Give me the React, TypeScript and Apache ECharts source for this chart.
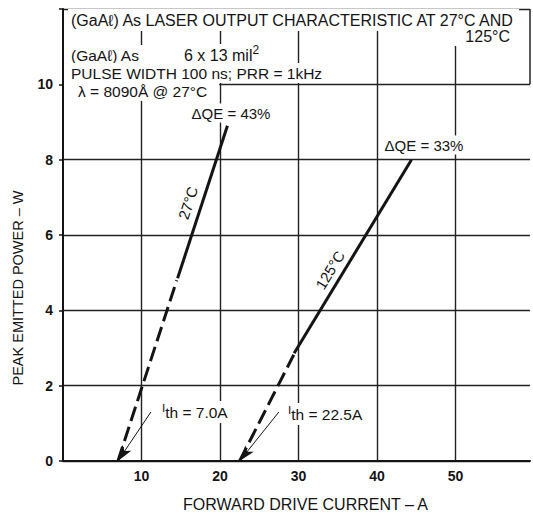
import React, { useEffect, useRef } from "react";
import * as echarts from "echarts";

const FONT = '"Liberation Sans", Arial, Helvetica, sans-serif';
const INK = "#141414";

// Axes
const X_MIN = 0;
const X_MAX = 59.5;
const X_STEP = 10;
const X_TICKS = [10, 20, 30, 40, 50];
const Y_MIN = 0;
const Y_MAX = 12;
const Y_STEP = 2;
const Y_TICKS = [0, 2, 4, 6, 8, 10];
const HEADER_FLOOR = 10; // the header box sits above this power level

// Threshold currents (A)
const ITH_27 = 7.0;
const ITH_125 = 22.5;

// Peak emitted power (W) vs forward drive current (A): [current, power]
const curve27Extrapolated = [[ITH_27, 0], [14.5, 4.8]];
const curve27Measured = [[14.6, 4.85], [20.95, 8.9]];
const curve125Extrapolated = [[ITH_125, 0], [29.4, 2.82]];
const curve125Measured = [[29.45, 2.86], [44.4, 8.0]];

// Tails of the threshold pointer arrows: [current, power]
const arrow27Tail = [11.2, 1.3];
const arrow125Tail = [27.5, 1.3];

const curve = (name: string, data: number[][], dashed: boolean, arrow?: { tail: number[]; tip: number[] }) => ({
  name,
  type: "line",
  data,
  symbol: "none",
  showSymbol: false,
  silent: true,
  z: 4,
  lineStyle: { color: INK, width: 3, type: dashed ? [15, 6] : "solid", cap: "butt" },
  markLine: arrow
    ? {
        silent: true,
        z: 6,
        symbol: ["none", "arrow"],
        symbolSize: [8, 16],
        label: { show: false },
        lineStyle: { color: INK, width: 1, type: "solid" },
        data: [[{ coord: arrow.tail }, { coord: arrow.tip }]],
      }
    : undefined,
});

const text = (
  t: string,
  x: number,
  y: number,
  opts: { align?: string; bg?: boolean; pad?: number[]; size?: number; rotation?: number } = {}
) => {
  const size = opts.size ?? 15;
  return {
    type: "text",
    x,
    y,
    z: 20,
    rotation: opts.rotation ?? 0,
    style: {
      text: t,
      fill: INK,
      fontSize: size,
      fontFamily: FONT,
      align: opts.align ?? "left",
      verticalAlign: "middle",
      backgroundColor: opts.bg === false ? undefined : "#fff",
      padding: opts.pad ?? [2, 3, 2, 3],
      rich: {
        n: { fontSize: size, fontFamily: FONT, fill: INK, lineHeight: 22 },
        sup: { fontSize: size * 0.75, fontFamily: FONT, fill: INK, verticalAlign: "top", lineHeight: 12 },
        i: { fontSize: size * 0.75, fontFamily: FONT, fill: INK, verticalAlign: "top", lineHeight: 14 },
      },
    },
  };
};

export default function App() {
  const ref = useRef<HTMLDivElement>(null);

  useEffect(() => {
    if (!ref.current) return;
    const chart = echarts.init(ref.current, null, { renderer: "svg" });

    const option: any = {
      animation: false,
      backgroundColor: "#fff",
      textStyle: { fontFamily: FONT },
      grid: { left: 63, top: 9, right: 1, bottom: 54, containLabel: false },
      xAxis: {
        type: "value",
        min: X_MIN,
        max: X_MAX,
        interval: X_STEP,
        name: "FORWARD DRIVE CURRENT – A",
        nameLocation: "middle",
        nameGap: 35,
        nameTextStyle: { fontSize: 16, color: INK, fontFamily: FONT, padding: [0, 0, 0, 18] },
        axisLine: { show: true, onZero: false, lineStyle: { color: INK, width: 2 } },
        axisTick: { show: false },
        axisLabel: {
          margin: 8,
          fontSize: 14,
          fontWeight: "bold",
          color: INK,
          fontFamily: FONT,
          formatter: (v: number) => (X_TICKS.includes(v) ? String(v) : ""),
        },
        splitLine: {
          show: true,
          showMinLine: false,
          showMaxLine: false,
          lineStyle: { color: "#222", width: 1.4 },
        },
      },
      yAxis: {
        type: "value",
        min: Y_MIN,
        max: Y_MAX,
        interval: Y_STEP,
        axisLine: { show: true, lineStyle: { color: INK, width: 2 } },
        axisTick: { show: true, length: 4, lineStyle: { color: INK, width: 1.5 } },
        axisLabel: {
          margin: 10,
          fontSize: 14,
          fontWeight: "bold",
          color: INK,
          fontFamily: FONT,
          formatter: (v: number) => (Y_TICKS.includes(v) ? String(v) : ""),
        },
        splitLine: { show: true, lineStyle: { color: "#222", width: 1.4 } },
      },
      series: [
        curve("27°C extrapolated", curve27Extrapolated, true, { tail: arrow27Tail, tip: [ITH_27, 0] }),
        curve("27°C", curve27Measured, false),
        curve("125°C extrapolated", curve125Extrapolated, true, { tail: arrow125Tail, tip: [ITH_125, 0] }),
        curve("125°C", curve125Measured, false),
      ],
    };
    chart.setOption(option);

    // Header box edge on the right, from the 10 W line up to the top frame
    const p0 = chart.convertToPixel({ gridIndex: 0 }, [X_MAX, HEADER_FLOOR]) as number[];
    const p1 = chart.convertToPixel({ gridIndex: 0 }, [X_MAX, Y_MAX]) as number[];
    const edgeX = Math.min(p0[0], 532);

    chart.setOption({
      graphic: [
        {
          type: "line",
          z: 21,
          shape: { x1: edgeX, y1: p0[1], x2: edgeX, y2: p1[1] },
          style: { stroke: INK, lineWidth: 1.4 },
        },
        text("(GaAℓ) As LASER OUTPUT CHARACTERISTIC AT 27°C AND", 68, 20, { size: 16, pad: [3, 3, 3, 3] }),
        text("125°C", 513, 36, { size: 16, align: "right", pad: [2, 3, 2, 16] }),
        text("(GaAℓ) As", 68, 55, { size: 15.5, pad: [2, 4, 2, 3] }),
        text("{n|6 x 13 mil}{sup|2}", 181, 55, { size: 16, pad: [0, 3, 0, 3] }),
        text("PULSE WIDTH 100 ns; PRR = 1kHz", 68, 73, { size: 15.5, pad: [2, 3, 2, 3] }),
        text("λ = 8090Å @ 27°C", 64, 91, { size: 15.5, pad: [2, 12, 2, 14] }),
        text("ΔQE = 43%", 231, 113, { size: 15, align: "center" }),
        text("ΔQE = 33%", 424, 145, { size: 15, align: "center" }),
        text("27°C", 188, 203, { size: 15, align: "center", bg: false, rotation: (72 * Math.PI) / 180 }),
        text("125°C", 330, 270, { size: 15, align: "center", bg: false, rotation: (59 * Math.PI) / 180 }),
        text("{i|I}{n|th = 7.0A}", 160, 412, { size: 15.5, pad: [0, 2, 0, 2] }),
        text("{i|I}{n|th = 22.5A}", 286, 414, { size: 15.5, pad: [0, 2, 0, 2] }),
        text("PEAK EMITTED POWER – W", 18, 288, { size: 14.5, align: "center", bg: false, rotation: Math.PI / 2 }),
      ],
    });

    return () => chart.dispose();
  }, []);

  return (
    <div
      ref={ref}
      style={{ position: "fixed", left: 0, top: 0, width: 533, height: 517, background: "#fff" }}
    />
  );
}
